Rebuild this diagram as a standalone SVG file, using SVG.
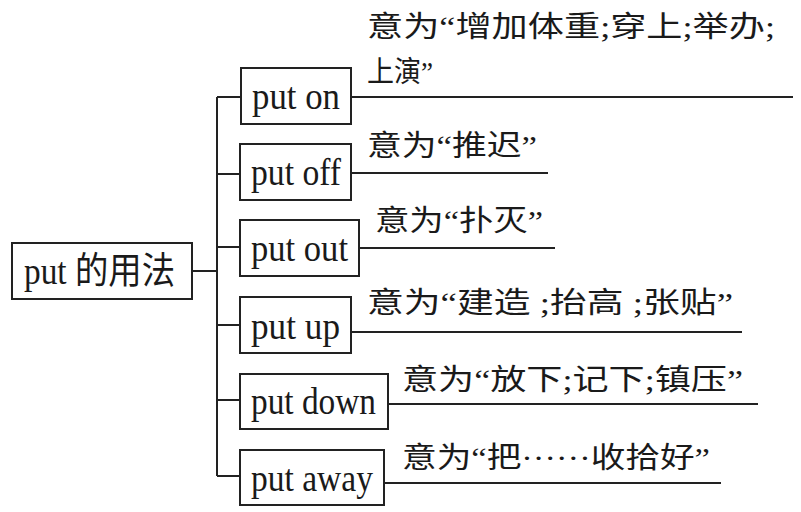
<svg xmlns="http://www.w3.org/2000/svg" width="801" height="512" viewBox="0 0 801 512">
<style>
.box{fill:#fff;stroke:#222;stroke-width:2}
.ln{fill:none;stroke:#222;stroke-width:2}
.en{font-family:"Liberation Serif","Noto Sans CJK SC",serif;font-size:37px;fill:#1a1a1a}
.zh{font-family:"Liberation Serif","Noto Sans CJK SC",serif;font-size:29px;fill:#1a1a1a}
</style>
<rect width="801" height="512" fill="#fff"/>
<g id="connectors">
<path class="ln" d="M192 271H217M217 97V476"/>
<path class="ln" d="M217 97H241M217 174H240M217 247H240M217 325H240M217 400H240M217 476H240"/>
<path class="ln" d="M351 97H793M351 173H548M359 248H555M351 332H742M388 404H758M384 483H721"/>
</g>
<g id="root">
<rect class="box" x="12" y="243" width="180" height="56"/>
<text class="en" x="24" y="284" textLength="151" lengthAdjust="spacingAndGlyphs">put 的用法</text>
</g>
<g id="put-on">
<rect class="box" x="241" y="68" width="110" height="56"/>
<text class="en" x="252" y="109" textLength="88" lengthAdjust="spacingAndGlyphs">put on</text>
<text class="zh" x="367" y="37" textLength="408" lengthAdjust="spacingAndGlyphs">意为“增加体重;穿上;举办;</text>
<text class="zh" x="367" y="82" textLength="66" lengthAdjust="spacingAndGlyphs">上演”</text>
</g>
<g id="put-off">
<rect class="box" x="240" y="144" width="111" height="56"/>
<text class="en" x="251" y="185" textLength="90" lengthAdjust="spacingAndGlyphs">put off</text>
<text class="zh" x="367" y="156" textLength="170" lengthAdjust="spacingAndGlyphs">意为“推迟”</text>
</g>
<g id="put-out">
<rect class="box" x="240" y="220" width="119" height="56"/>
<text class="en" x="251" y="261" textLength="97" lengthAdjust="spacingAndGlyphs">put out</text>
<text class="zh" x="375" y="231" textLength="168" lengthAdjust="spacingAndGlyphs">意为“扑灭”</text>
</g>
<g id="put-up">
<rect class="box" x="240" y="297" width="111" height="56"/>
<text class="en" x="251" y="339" textLength="89" lengthAdjust="spacingAndGlyphs">put up</text>
<text class="zh" x="367" y="313" textLength="366" lengthAdjust="spacingAndGlyphs">意为“建造 ;抬高 ;张贴”</text>
</g>
<g id="put-down">
<rect class="box" x="240" y="374" width="148" height="55"/>
<text class="en" x="251" y="414" textLength="125" lengthAdjust="spacingAndGlyphs">put down</text>
<text class="zh" x="402" y="390" textLength="341" lengthAdjust="spacingAndGlyphs">意为“放下;记下;镇压”</text>
</g>
<g id="put-away">
<rect class="box" x="240" y="450" width="144" height="55"/>
<text class="en" x="251" y="491" textLength="122" lengthAdjust="spacingAndGlyphs">put away</text>
<text class="zh" x="402" y="468" textLength="308" lengthAdjust="spacingAndGlyphs">意为“把<tspan dy="-8">……</tspan><tspan dy="8">收拾好”</tspan></text>
</g>
</svg>
